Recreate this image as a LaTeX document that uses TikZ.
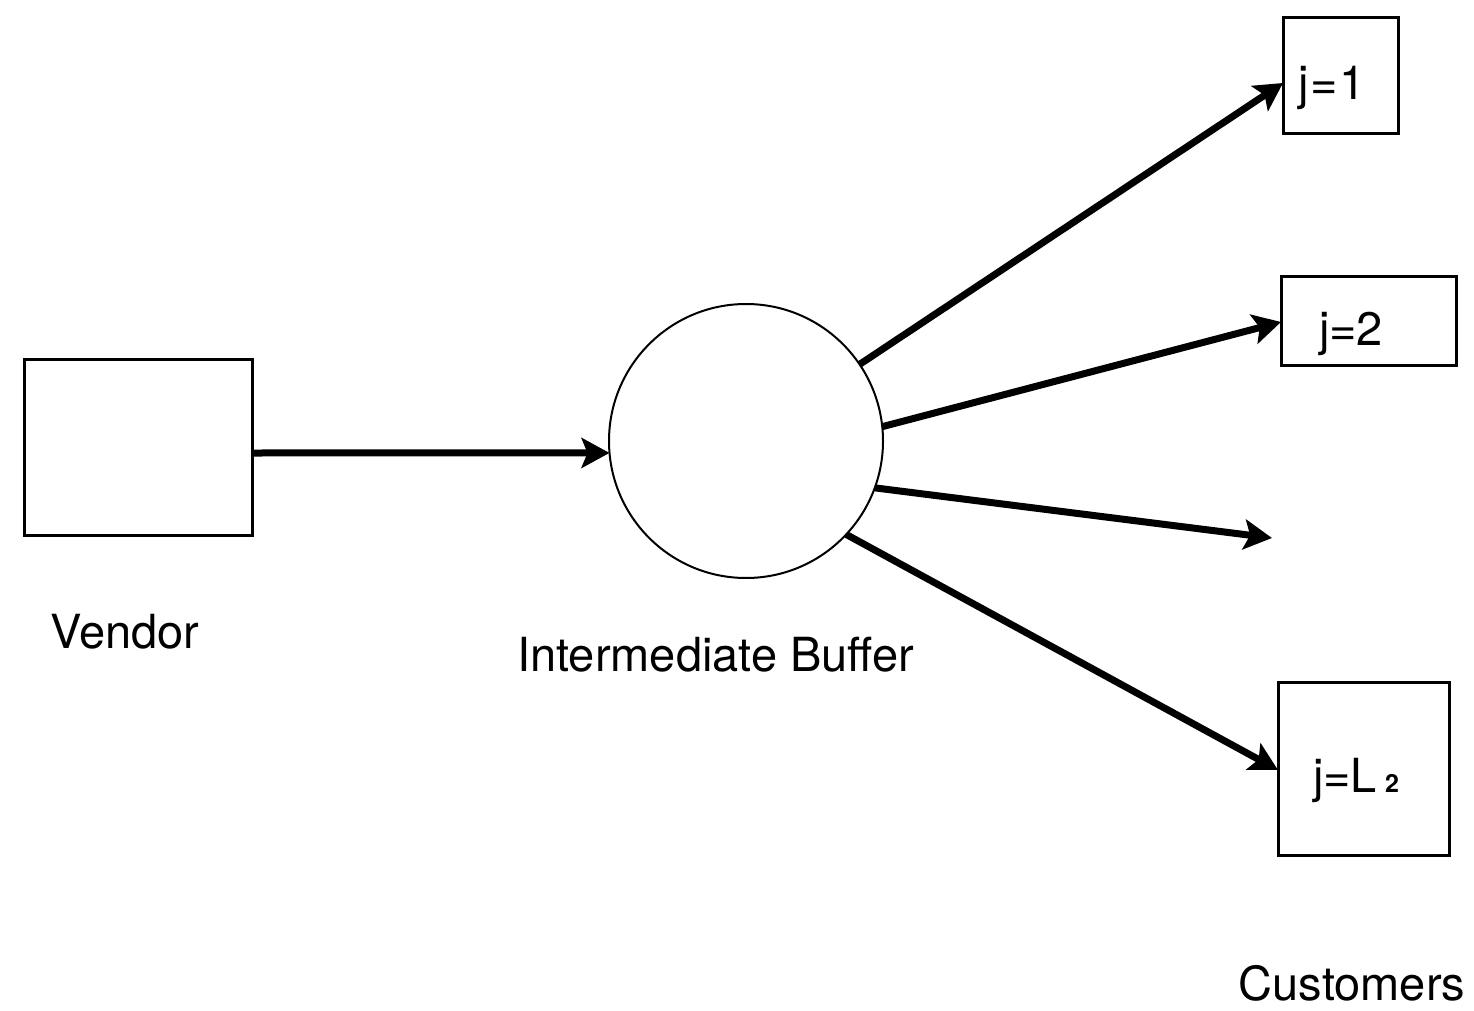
\documentclass[tikz,border=0pt]{standalone}
\usepackage{fontspec}
\setmainfont{TeX Gyre Heros}
\usetikzlibrary{arrows.meta}
\begin{document}
\begin{tikzpicture}[x=0.5pt,y=-0.5pt,
  every node/.style={inner sep=0pt,outer sep=0pt},
  box/.style={draw,line width=1.5pt,rectangle},
  lbl/.style={anchor=base,font=\fontsize{23.5}{28}\selectfont},
  flow/.style={line width=3.5pt,-{Stealth[length=14pt,width=15pt,inset=3pt]}}]
\useasboundingbox (0,0) rectangle (1474,1011);
\node[box,minimum width=114pt,minimum height=88pt] (vendor) at (138,447) {};
\node[draw,circle,line width=1pt,minimum size=137pt] (buf) at (746,441) {};
\node[box,minimum width=57.5pt,minimum height=58pt] (b1) at (1340.5,76) {};
\node[box,minimum width=87.5pt,minimum height=44.5pt] (b2) at (1368.5,320.5) {};
\node[box,minimum width=85.5pt,minimum height=86.5pt] (bL) at (1363.5,768.5) {};
\coordinate (free) at (1272,538);
\node[lbl] (t1) at (1332,100) {j\kern1pt=\kern1pt1};
\node[lbl] (t2) at (1351,345) {j=2};
\node[lbl] (tL) at (1356,792) {j=L\kern4pt{\fontsize{12.5}{12.5}\selectfont\bfseries 2}};
\node[lbl] (lv) at (125,648) {Vendor};
\node[lbl] (lb) at (716,671) {Intermediate Buffer};
\node[lbl] (lc) at (1352,1000) {Customers};
\draw[flow] ([yshift=-3pt]vendor.east) -- (buf.185);
\draw[flow] (buf.34) -- ([yshift=-3.5pt]b1.west);
\draw[flow] (buf.6) -- ([yshift=-0.75pt]b2.west);
\draw[flow] (buf.-20) -- (free);
\draw[flow] (buf.-43) -- ([yshift=-0.75pt]bL.west);
\end{tikzpicture}
\end{document}
